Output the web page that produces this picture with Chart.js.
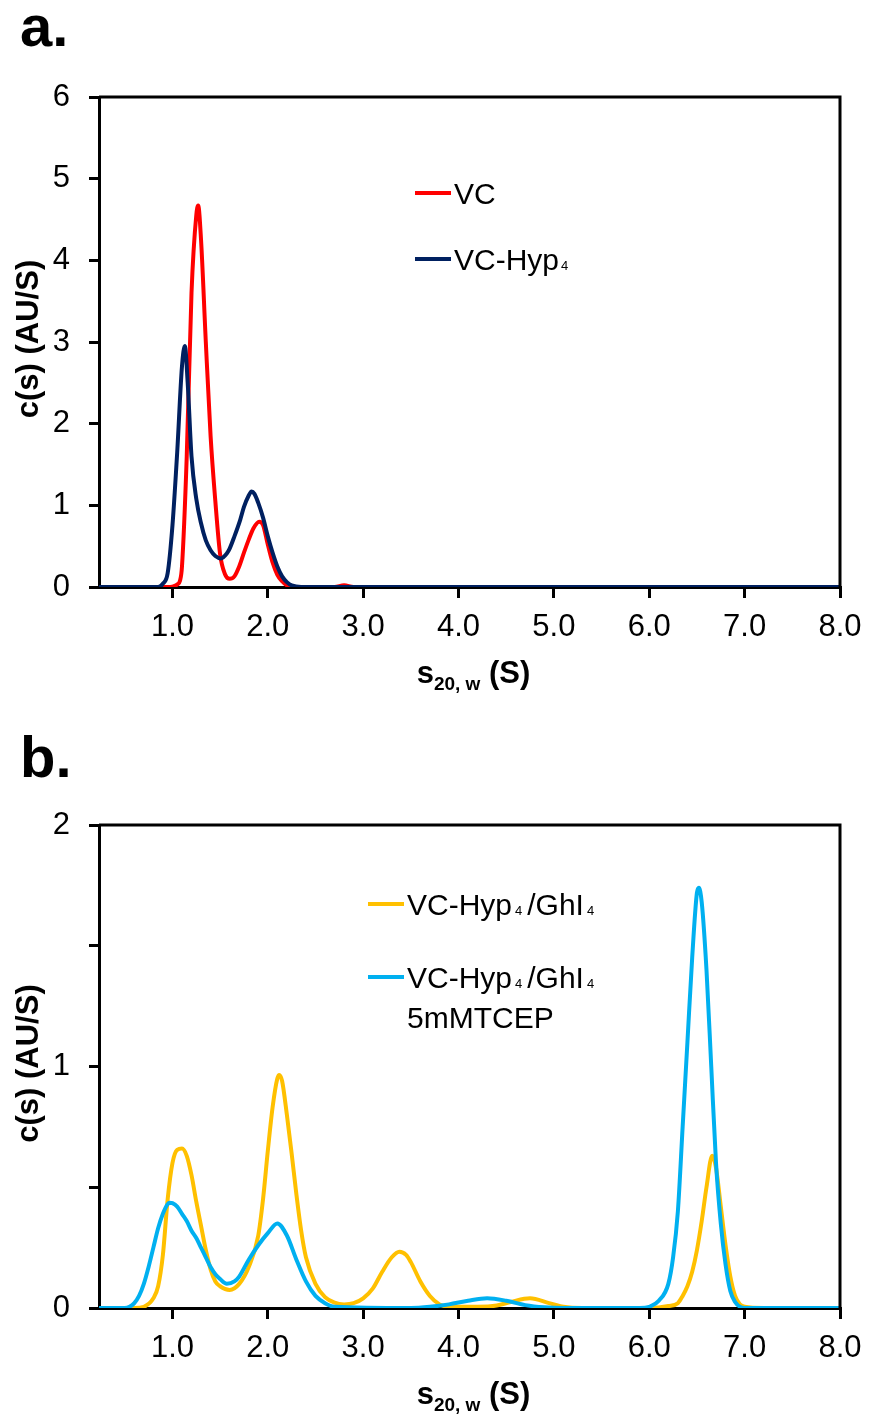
<!DOCTYPE html>
<html>
<head>
<meta charset="utf-8">
<script src="https://cdn.jsdelivr.net/npm/chart.js@4.4.1/dist/chart.umd.min.js"></script>
<style>
  body { margin: 0; background: #fff; }
  #wrap { position: relative; width: 869px; height: 1420px; }
  canvas { position: absolute; left: 0; }
  #chartA { top: 0; }
  #chartB { top: 710px; }
</style>
</head>
<body>
<div id="wrap">
  <canvas id="chartA" width="869" height="710" style="width:869px;height:710px"></canvas>
  <canvas id="chartB" width="869" height="710" style="width:869px;height:710px"></canvas>
</div>
<script>
// ---- data ----
const xTicks = [1, 2, 3, 4, 5, 6, 7, 8];

// panel a: VC
const sVC = [0.23, 0.95, 1.0, 1.05, 1.08, 1.1, 1.15, 1.2, 1.25, 1.27, 1.3, 1.35, 1.4, 1.45, 1.5, 1.55, 1.6, 1.65, 1.7, 1.75, 1.8, 1.85, 1.91, 1.95, 2.0, 2.05, 2.1, 2.15, 2.2, 2.3, 2.7, 2.8, 2.9, 8.0];
const cVC = [0, 0, 0.005, 0.03, 0.08, 0.25, 1.6, 3.6, 4.55, 4.67, 4.25, 3.0, 1.85, 1.05, 0.4, 0.16, 0.1, 0.13, 0.25, 0.42, 0.58, 0.72, 0.8, 0.76, 0.52, 0.3, 0.15, 0.07, 0.02, 0, 0, 0.02, 0, 0];

// panel a: VC-Hyp4
const sHyp = [0.23, 0.85, 0.9, 0.95, 1.0, 1.05, 1.1, 1.13, 1.16, 1.2, 1.25, 1.3, 1.35, 1.4, 1.45, 1.51, 1.57, 1.6, 1.65, 1.71, 1.75, 1.8, 1.83, 1.86, 1.9, 1.95, 2.0, 2.05, 2.1, 2.15, 2.2, 2.25, 2.35, 8.0];
const cHyp = [0, 0, 0.04, 0.17, 0.75, 1.65, 2.7, 2.95, 2.5, 1.6, 1.08, 0.78, 0.57, 0.45, 0.38, 0.35, 0.41, 0.47, 0.62, 0.82, 0.98, 1.12, 1.17, 1.14, 1.03, 0.85, 0.62, 0.42, 0.25, 0.13, 0.06, 0.02, 0, 0];

// panel b: VC-Hyp4/GhI4
const sGhl = [0.23, 0.6, 0.7, 0.8, 0.85, 0.9, 0.95, 1.0, 1.05, 1.1, 1.15, 1.2, 1.25, 1.3, 1.35, 1.4, 1.45, 1.5, 1.6, 1.7, 1.8, 1.9, 1.95, 2.0, 2.05, 2.1, 2.12, 2.15, 2.2, 2.25, 2.3, 2.35, 2.4, 2.5, 2.6, 2.7, 2.8, 2.9, 3.0, 3.1, 3.2, 3.3, 3.38, 3.45, 3.5, 3.6, 3.7, 3.8, 3.9, 4.2, 4.4, 4.55, 4.75, 4.95, 5.1, 5.3, 6.0, 6.2, 6.3, 6.35, 6.4, 6.45, 6.5, 6.55, 6.6, 6.66, 6.7, 6.75, 6.8, 6.85, 6.9, 6.95, 7.0, 7.2, 8.0];
const cGhl = [0, 0, 0.005, 0.04, 0.09, 0.22, 0.45, 0.6, 0.655, 0.66, 0.63, 0.55, 0.44, 0.34, 0.24, 0.16, 0.11, 0.09, 0.075, 0.1, 0.17, 0.3, 0.45, 0.65, 0.83, 0.95, 0.965, 0.94, 0.8, 0.64, 0.47, 0.32, 0.21, 0.1, 0.045, 0.022, 0.015, 0.02, 0.04, 0.08, 0.15, 0.21, 0.233, 0.22, 0.19, 0.11, 0.05, 0.015, 0.005, 0.005, 0.01, 0.025, 0.04, 0.02, 0.005, 0, 0, 0.008, 0.02, 0.05, 0.09, 0.15, 0.24, 0.36, 0.5, 0.63, 0.58, 0.42, 0.26, 0.13, 0.05, 0.015, 0.005, 0, 0];

// panel b: VC-Hyp4/GhI4 5mMTCEP
const sTcep = [0.23, 0.5, 0.55, 0.6, 0.65, 0.7, 0.75, 0.8, 0.85, 0.9, 0.95, 0.97, 1.0, 1.05, 1.1, 1.15, 1.2, 1.25, 1.3, 1.35, 1.4, 1.45, 1.5, 1.57, 1.65, 1.7, 1.8, 1.9, 2.0, 2.1, 2.2, 2.3, 2.4, 2.5, 2.6, 2.7, 3.5, 3.7, 3.9, 4.1, 4.3, 4.5, 4.7, 4.9, 5.1, 5.9, 6.0, 6.1, 6.2, 6.25, 6.3, 6.35, 6.4, 6.45, 6.5, 6.52, 6.55, 6.6, 6.65, 6.7, 6.75, 6.8, 6.85, 6.9, 6.96, 7.0, 8.0];
const cTcep = [0, 0, 0.005, 0.02, 0.05, 0.1, 0.17, 0.25, 0.33, 0.39, 0.43, 0.436, 0.434, 0.42, 0.39, 0.36, 0.32, 0.29, 0.25, 0.21, 0.17, 0.14, 0.12, 0.1, 0.11, 0.13, 0.2, 0.26, 0.31, 0.35, 0.3, 0.2, 0.11, 0.05, 0.02, 0.005, 0, 0.005, 0.015, 0.03, 0.04, 0.03, 0.012, 0.003, 0, 0, 0.005, 0.03, 0.1, 0.21, 0.4, 0.75, 1.1, 1.45, 1.72, 1.74, 1.68, 1.4, 1.0, 0.6, 0.35, 0.18, 0.07, 0.025, 0.003, 0, 0];

const FONT = '"Liberation Sans", Arial, sans-serif';

function toPoints(xs, ys) {
  return xs.map((x, i) => ({ x: x, y: ys[i] }));
}

// draws a row of text pieces (used for subscripts)
function drawRuns(ctx, x, y, runs, measureOnly) {
  let cx = x;
  runs.forEach(r => {
    ctx.font = (r.bold ? 'bold ' : '') + r.size + 'px ' + FONT;
    cx += r.gap || 0;
    if (!measureOnly) ctx.fillText(r.t, cx, y + (r.dy || 0));
    cx += ctx.measureText(r.t).width;
  });
  return cx - x;
}

const figureText = {
  id: 'figureText',
  afterDraw(chart, args, opts) {
    const ctx = chart.ctx;
    const area = chart.chartArea;
    ctx.save();

    // top and right frame
    ctx.strokeStyle = '#000';
    ctx.lineWidth = 3;
    ctx.beginPath();
    ctx.moveTo(area.left, area.top);
    ctx.lineTo(area.right, area.top);
    ctx.lineTo(area.right, area.bottom);
    ctx.stroke();

    ctx.fillStyle = '#000';
    ctx.textBaseline = 'alphabetic';
    ctx.textAlign = 'left';

    // panel letter
    ctx.font = 'bold 58px ' + FONT;
    ctx.fillText(opts.panel, 20, opts.panelY);

    // y axis title
    ctx.save();
    ctx.translate(38, (area.top + area.bottom) / 2 - 3);
    ctx.rotate(-Math.PI / 2);
    ctx.textAlign = 'center';
    ctx.font = 'bold 31px ' + FONT;
    ctx.fillText('c(s) (AU/S)', 0, 0);
    ctx.restore();

    // x axis title with subscript
    const xRuns = [
      { t: 's', size: 31, bold: true },
      { t: '20, w', size: 19, bold: true, dy: 7 },
      { t: ' (S)', size: 31, bold: true }
    ];
    const w = drawRuns(ctx, 0, 0, xRuns, true);
    drawRuns(ctx, (area.left + area.right) / 2 - w / 2 + 4, area.bottom + opts.xTitleGap, xRuns);

    // legend
    opts.legend.forEach(item => {
      if (item.color) {
        ctx.strokeStyle = item.color;
        ctx.lineWidth = 4;
        ctx.beginPath();
        ctx.moveTo(item.x1, item.y);
        ctx.lineTo(item.x2, item.y);
        ctx.stroke();
      }
      drawRuns(ctx, item.tx, item.y + 11, item.runs);
    });

    ctx.restore();
  }
};

function sub4(gap) {
  return { t: '4', size: 13, gap: gap };
}

function makeChart(id, datasets, yMax, yStep, yLabel, pad, xHeight, textOpts) {
  const ctx = document.getElementById(id).getContext('2d');
  return new Chart(ctx, {
    type: 'line',
    data: { datasets: datasets },
    options: {
      responsive: false,
      animation: false,
      events: [],
      layout: { padding: pad },
      elements: { point: { radius: 0 }, line: { borderWidth: 4 } },
      scales: {
        x: {
          type: 'linear',
          min: 0.23,
          max: 8,
          afterBuildTicks: s => { s.ticks = xTicks.map(v => ({ value: v })); },
          afterFit: s => {
            s.height = xHeight;
            // keep the "8.0" label from shrinking the plot area
            s.paddingLeft = 0;
            s.paddingRight = 0;
          },
          grid: { drawOnChartArea: false, drawTicks: true, tickLength: 11, color: '#000', lineWidth: 3 },
          border: { display: true, color: '#000', width: 3 },
          ticks: {
            color: '#000',
            font: { family: FONT, size: 31 },
            padding: 11,
            maxRotation: 0,
            autoSkip: false,
            callback: v => Number(v).toFixed(1)
          }
        },
        y: {
          min: 0,
          max: yMax,
          afterFit: s => { s.width = 99; },
          grid: { drawOnChartArea: false, drawTicks: true, tickLength: 10, color: '#000', lineWidth: 3 },
          border: { display: true, color: '#000', width: 3 },
          ticks: {
            stepSize: yStep,
            color: '#000',
            font: { family: FONT, size: 31 },
            padding: 19,
            callback: yLabel
          }
        }
      },
      plugins: {
        legend: { display: false },
        tooltip: { enabled: false },
        figureText: textOpts
      }
    },
    plugins: [figureText]
  });
}

// ---- panel a ----
makeChart('chartA', [
  { label: 'VC-Hyp4', data: toPoints(sHyp, cHyp), borderColor: '#002060', cubicInterpolationMode: 'monotone', order: 1 },
  { label: 'VC', data: toPoints(sVC, cVC), borderColor: '#FF0000', cubicInterpolationMode: 'monotone', order: 2 }
], 6, 1, v => v,
  { left: 0, right: 29, top: 97, bottom: 0 }, 123,
  {
    panel: 'a.', panelY: 46, xTitleGap: 96,
    legend: [
      { color: '#FF0000', x1: 415, x2: 451, y: 193, tx: 454, runs: [{ t: 'VC', size: 30 }] },
      { color: '#002060', x1: 415, x2: 451, y: 259, tx: 454, runs: [{ t: 'VC-Hyp', size: 30 }, sub4(2)] }
    ]
  });

// ---- panel b ----
makeChart('chartB', [
  { label: 'VC-Hyp4/GhI4 5mMTCEP', data: toPoints(sTcep, cTcep), borderColor: '#00B0F0', cubicInterpolationMode: 'monotone', order: 1 },
  { label: 'VC-Hyp4/GhI4', data: toPoints(sGhl, cGhl), borderColor: '#FFC000', cubicInterpolationMode: 'monotone', order: 2 }
], 2, 0.5, v => (Number.isInteger(v) ? v : ''),
  { left: 0, right: 29, top: 115, bottom: 0 }, 112,
  {
    panel: 'b.', panelY: 67, xTitleGap: 96,
    legend: [
      { color: '#FFC000', x1: 368, x2: 404, y: 194, tx: 407, runs: [{ t: 'VC-Hyp', size: 30 }, sub4(3), { t: '/GhI', size: 30, gap: 5 }, sub4(3)] },
      { color: '#00B0F0', x1: 368, x2: 404, y: 267, tx: 407, runs: [{ t: 'VC-Hyp', size: 30 }, sub4(3), { t: '/GhI', size: 30, gap: 5 }, sub4(3)] },
      { x1: 0, x2: 0, y: 307, tx: 407, runs: [{ t: '5mMTCEP', size: 30 }] }
    ]
  });
</script>
</body>
</html>
